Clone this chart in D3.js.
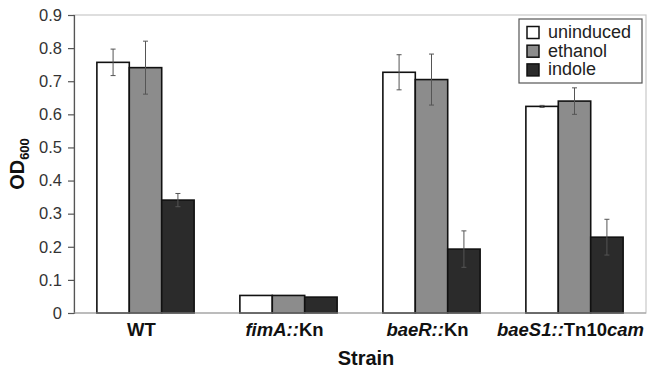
<!DOCTYPE html>
<html lang="en">
<head>
<meta charset="utf-8">
<title>OD600 by strain</title>
<script src="https://d3js.org/d3.v7.min.js"></script>
<style>
  body, html { margin: 0; background: #fff; }
  svg { display: block; font-family: "Liberation Sans", Arial, sans-serif; }
</style>
</head>
<body>
<svg width="651" height="369"></svg>
<script>
// data
var strains = ["WT", "fimA", "baeR", "baeS1"];
var conditions = ["uninduced", "ethanol", "indole"];
var uninduced = [0.757, 0.053, 0.727, 0.624];
var ethanol   = [0.741, 0.053, 0.705, 0.640];
var indole    = [0.341, 0.048, 0.193, 0.229];
var errUninduced = [0.040, 0.000, 0.053, 0.003];
var errEthanol   = [0.080, 0.000, 0.077, 0.040];
var errIndole    = [0.020, 0.000, 0.055, 0.054];
var yTicks = [0, 0.1, 0.2, 0.3, 0.4, 0.5, 0.6, 0.7, 0.8, 0.9];

var values = [uninduced, ethanol, indole];
var errors = [errUninduced, errEthanol, errIndole];
var fills = ["#ffffff", "#8c8c8c", "#2b2b2b"];

var svg = d3.select("svg");
// plot box (note: "top" is taken by window.top, so use prefixed names)
var pLeft = 74, pRight = 646, pTop = 15, pBottom = 313;

var x = d3.scaleBand().domain(strains).range([pLeft, pRight]).paddingInner(0.32).paddingOuter(0.16);
var xi = d3.scaleBand().domain(conditions).range([0, x.bandwidth()]);
var y = d3.scaleLinear().domain([0, 0.9]).range([pBottom, pTop]);

// plot frame
svg.append("rect")
  .attr("x", pLeft).attr("y", pTop)
  .attr("width", pRight - pLeft).attr("height", pBottom - pTop)
  .attr("fill", "none").attr("stroke", "#c8c8c8").attr("stroke-width", 1.2);

// y axis
var yAxis = svg.append("g")
  .attr("transform", "translate(" + pLeft + ",0)")
  .call(d3.axisLeft(y).tickValues(yTicks).tickSize(6).tickPadding(6)
    .tickFormat(function(d) { return d === 0 ? "0" : d3.format(".1f")(d); }));
yAxis.selectAll("path, line").attr("stroke", "#555").attr("stroke-width", 1.2);
yAxis.selectAll("text").attr("font-size", 16.5).attr("fill", "#333")
  .attr("font-family", "Liberation Sans, Arial, sans-serif");

// bars
var rows = [];
strains.forEach(function(s, i) {
  conditions.forEach(function(c, j) {
    rows.push({strain: s, cond: c, v: values[j][i], e: errors[j][i], fill: fills[j]});
  });
});

var g = svg.append("g");
g.selectAll("rect.bar").data(rows).enter().append("rect")
  .attr("class", "bar")
  .attr("x", function(d) { return x(d.strain) + xi(d.cond); })
  .attr("y", function(d) { return y(d.v); })
  .attr("width", xi.bandwidth())
  .attr("height", function(d) { return y(0) - y(d.v); })
  .attr("fill", function(d) { return d.fill; })
  .attr("stroke", "#111").attr("stroke-width", 1.6);

// error bars
var eb = g.selectAll("g.err").data(rows.filter(function(d) { return d.e > 0; })).enter().append("g")
  .attr("stroke", "#555").attr("stroke-width", 1);
eb.append("line")
  .attr("x1", function(d) { return x(d.strain) + xi(d.cond) + xi.bandwidth() / 2; })
  .attr("x2", function(d) { return x(d.strain) + xi(d.cond) + xi.bandwidth() / 2; })
  .attr("y1", function(d) { return y(d.v + d.e); })
  .attr("y2", function(d) { return y(d.v - d.e); });
[1, -1].forEach(function(sign) {
  eb.append("line")
    .attr("x1", function(d) { return x(d.strain) + xi(d.cond) + xi.bandwidth() / 2 - 2.5; })
    .attr("x2", function(d) { return x(d.strain) + xi(d.cond) + xi.bandwidth() / 2 + 2.5; })
    .attr("y1", function(d) { return y(d.v + sign * d.e); })
    .attr("y2", function(d) { return y(d.v + sign * d.e); });
});

// x baseline
svg.append("line").attr("x1", pLeft).attr("x2", pRight).attr("y1", pBottom).attr("y2", pBottom)
  .attr("stroke", "#999").attr("stroke-width", 1.2);

// strain labels, slightly left of group centre as in the figure
var labelParts = {
  WT: [["WT", "normal"]],
  fimA: [["fimA::", "italic"], ["Kn", "normal"]],
  baeR: [["baeR::", "italic"], ["Kn", "normal"]],
  baeS1: [["baeS1::", "italic"], ["Tn10", "normal"], ["cam", "italic"]]
};
strains.forEach(function(s) {
  var t = svg.append("text")
    .attr("x", x(s) + x.bandwidth() / 2 - 4).attr("y", 336)
    .attr("text-anchor", "middle")
    .attr("font-size", 18.5).attr("font-weight", "bold").attr("fill", "#111");
  labelParts[s].forEach(function(p) {
    t.append("tspan").attr("font-style", p[1]).text(p[0]);
  });
});

// axis titles
svg.append("text").attr("x", 366).attr("y", 365).attr("text-anchor", "middle")
  .attr("font-size", 20).attr("font-weight", "bold").attr("fill", "#111").text("Strain");

var yt = svg.append("text")
  .attr("transform", "translate(24,164) rotate(-90)")
  .attr("text-anchor", "middle").attr("font-weight", "bold").attr("fill", "#111");
yt.append("tspan").attr("font-size", 20).text("OD");
yt.append("tspan").attr("font-size", 13).attr("dy", 5).text("600");

// legend
var lg = svg.append("g").attr("transform", "translate(519,19)");
lg.append("rect").attr("width", 123).attr("height", 64)
  .attr("fill", "#fff").attr("stroke", "#555").attr("stroke-width", 1.2);
var li = lg.selectAll("g.item").data(conditions).enter().append("g")
  .attr("transform", function(d, i) { return "translate(8," + (7.5 + i * 18.7) + ")"; });
li.append("rect").attr("width", 12).attr("height", 12)
  .attr("fill", function(d, i) { return fills[i]; })
  .attr("stroke", "#111").attr("stroke-width", 1.5);
li.append("text").attr("x", 21).attr("y", 11.5)
  .attr("font-size", 18).attr("fill", "#222").text(function(d) { return d; });
</script>
</body>
</html>
